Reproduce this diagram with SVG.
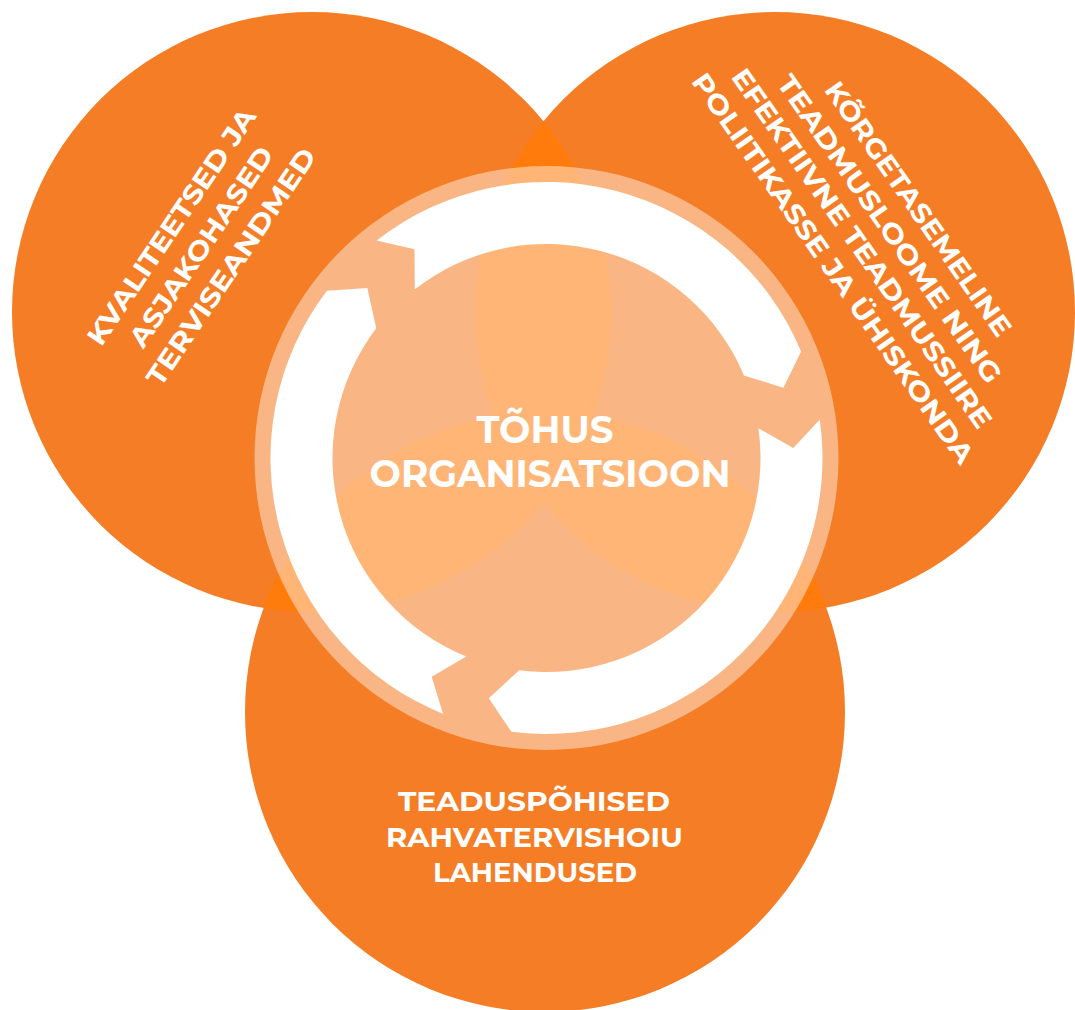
<svg xmlns="http://www.w3.org/2000/svg" width="1075" height="1010" viewBox="0 0 1075 1010">
<defs>
<clipPath id="cTL"><circle cx="312" cy="312" r="300"/></clipPath>
<clipPath id="cTR"><circle cx="775" cy="312" r="300"/></clipPath>
<style>
.big{fill:#F47D25}
.ov{fill:#FF7B0C}
.lbl{font-family:"Montserrat","Open Sans","Liberation Sans",sans-serif;font-weight:700;fill:#FFFFFF;text-anchor:middle}
.s27{font-size:27px}
.s38{font-size:38px}
.arrow{fill:#FFFFFF}
</style>
</defs>
<rect width="1075" height="1010" fill="#FFFFFF"/>
<g id="node-data">
<circle class="big" cx="312" cy="312" r="300"/>
<g transform="translate(209,252) rotate(-56)">
<text class="lbl s27" x="0" y="-36" textLength="279" lengthAdjust="spacingAndGlyphs">KVALITEETSED JA</text>
<text class="lbl s27" x="0" y="0" textLength="235" lengthAdjust="spacingAndGlyphs">ASJAKOHASED</text>
<text class="lbl s27" x="0" y="36" textLength="280" lengthAdjust="spacingAndGlyphs">TERVISEANDMED</text>
</g>
</g>
<g id="node-knowledge">
<circle class="big" cx="775" cy="312" r="300"/>
<g transform="translate(868,244) rotate(55)">
<text class="lbl s27" x="0" y="-52" textLength="304" lengthAdjust="spacingAndGlyphs">KÕRGETASEMELINE</text>
<text class="lbl s27" x="0" y="-17" textLength="369" lengthAdjust="spacingAndGlyphs">TEADMUSLOOME NING</text>
<text class="lbl s27" x="0" y="17" textLength="432" lengthAdjust="spacingAndGlyphs">EFEKTIIVNE TEADMUSSIIRE</text>
<text class="lbl s27" x="0" y="52" textLength="470" lengthAdjust="spacingAndGlyphs">POLIITIKASSE JA ÜHISKONDA</text>
</g>
</g>
<g id="node-solutions">
<circle class="big" cx="545" cy="712" r="300"/>
<text class="lbl s27" x="534" y="811" textLength="272" lengthAdjust="spacingAndGlyphs">TEADUSPÕHISED</text>
<text class="lbl s27" x="534.5" y="847" textLength="297" lengthAdjust="spacingAndGlyphs">RAHVATERVISHOIU</text>
<text class="lbl s27" x="535" y="882" textLength="204" lengthAdjust="spacingAndGlyphs">LAHENDUSED</text>
</g>
<g id="overlaps">
<circle class="ov" cx="775" cy="312" r="300" clip-path="url(#cTL)"/>
<circle class="ov" cx="545" cy="712" r="300" clip-path="url(#cTL)"/>
<circle class="ov" cx="545" cy="712" r="300" clip-path="url(#cTR)"/>
</g>
<g id="node-center">
<circle cx="546.5" cy="458" r="292" fill="#FFFFFF" fill-opacity="0.44"/>
</g>
<g id="connectors">
<path class="arrow" d="M376.58,240.51 A276,276 0 0 1 801.12,351.49 L783.33,387.85 L743.92,375.42 A214,214 0 0 0 414.75,289.37 L414.52,249.22 Z"/>
<path class="arrow" d="M819.81,419.59 A276,276 0 0 1 511.43,731.76 L488.84,698.18 L519.31,670.26 A214,214 0 0 0 758.42,428.22 L793.30,448.09 Z"/>
<path class="arrow" d="M443.11,713.90 A276,276 0 0 1 326.95,290.75 L367.33,287.98 L376.27,328.32 A214,214 0 0 0 466.33,656.42 L431.68,676.69 Z"/>
</g>
<g id="center-label">
<text class="lbl s38" x="545" y="443" textLength="137" lengthAdjust="spacingAndGlyphs">TÕHUS</text>
<text class="lbl s38" x="550" y="487" textLength="361" lengthAdjust="spacingAndGlyphs">ORGANISATSIOON</text>
</g>
</svg>
